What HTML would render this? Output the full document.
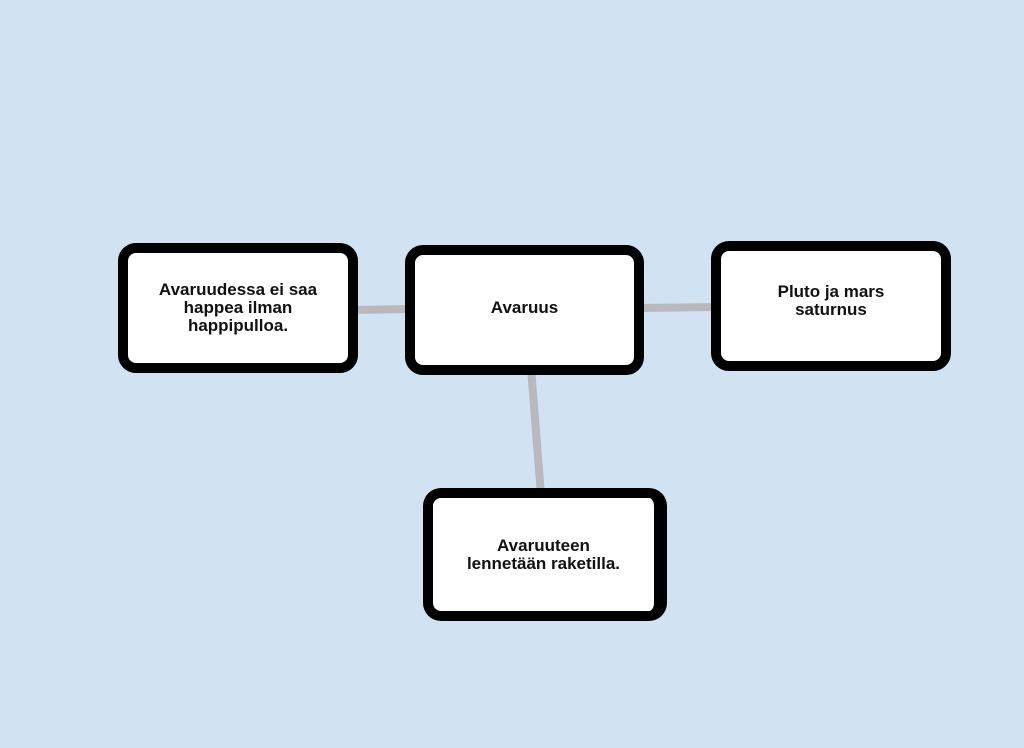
<!DOCTYPE html>
<html><head><style>
body{margin:0;width:1024px;height:748px;background:#d1e3f2;position:relative;overflow:hidden;font-family:"Liberation Sans",sans-serif}
.b{position:absolute;box-sizing:border-box;border:10px solid #000;border-radius:18px;background:#fff;display:flex;align-items:center;justify-content:center;text-align:center;font-weight:bold;font-size:17px;line-height:18px;color:#111}
</style></head><body>
<svg width="1024" height="748" style="position:absolute;left:0;top:0">
<g stroke="#b8b8bd" stroke-width="8">
<line x1="350" y1="310" x2="412" y2="309"/>
<line x1="636" y1="308" x2="718" y2="307"/>
<line x1="531" y1="368" x2="541" y2="495"/>
</g></svg>
<div class="b" style="left:118px;top:243px;width:240px;height:130px">Avaruudessa ei saa<br>happea ilman<br>happipulloa.</div>
<div class="b" style="left:405px;top:245px;width:239px;height:130px;padding-bottom:4px">Avaruus</div>
<div class="b" style="left:711px;top:241px;width:240px;height:130px;padding-bottom:10px">Pluto ja mars<br>saturnus</div>
<div class="b" style="left:423px;top:488px;width:244px;height:133px;border-right-width:13px">Avaruuteen<br>lennetään raketilla.</div>
</body></html>
